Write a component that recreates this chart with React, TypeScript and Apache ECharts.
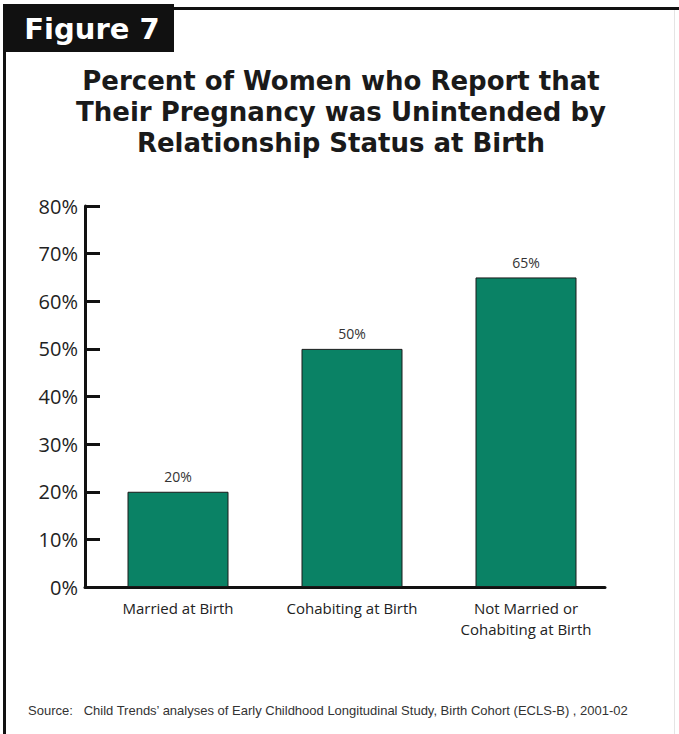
import React, { useEffect, useRef } from "react";
import * as echarts from "echarts";

const categories = ["Married at Birth", "Cohabiting at Birth", "Not Married or\nCohabiting at Birth"];
const values = [20, 50, 65];
const yTicks = [0, 10, 20, 30, 40, 50, 60, 70, 80];
const titleLines = [
  "Percent of Women who Report that",
  "Their Pregnancy was Unintended by",
  "Relationship Status at Birth",
];
const figureLabel = "Figure 7";
const sourceText =
  "Source:   Child Trends\u2019 analyses of Early Childhood Longitudinal Study, Birth Cohort (ECLS-B) , 2001-02";

export default function App() {
  const ref = useRef<HTMLDivElement>(null);
  useEffect(() => {
    if (!ref.current) return;
    const chart = echarts.init(ref.current, null, { renderer: "svg" });
    const top = 206;
    const bottom = 734 - 587;
    chart.setOption({
      animation: false,
      backgroundColor: "#ffffff",
      grid: [
        { left: 91, width: 522, top, bottom },
        { left: 85, width: 520, top, bottom },
      ],
      xAxis: [
        {
          type: "category",
          gridIndex: 0,
          data: categories,
          axisLine: { show: false },
          axisTick: { show: false },
          axisLabel: {
            color: "#222",
            fontSize: 15,
            fontFamily: "Open Sans",
            lineHeight: 21,
            margin: 10,
            interval: 0,
          },
        },
        {
          type: "value",
          gridIndex: 1,
          min: 0,
          max: 1,
          axisLine: { show: true, lineStyle: { color: "#111", width: 3 } },
          axisTick: { show: false },
          axisLabel: { show: false },
          splitLine: { show: false },
        },
      ],
      yAxis: [
        {
          type: "value",
          gridIndex: 0,
          min: 0,
          max: 80,
          interval: 10,
          offset: 6,
          axisLine: { show: true, lineStyle: { color: "#111", width: 3 } },
          axisTick: { show: true, inside: true, length: 15, lineStyle: { color: "#111", width: 3 } },
          axisLabel: {
            color: "#222",
            fontSize: 20,
            fontFamily: "Open Sans",
            margin: 7,
            formatter: (v: number) => (yTicks.includes(v) ? v + "%" : ""),
          },
          splitLine: { show: false },
        },
        {
          type: "value",
          gridIndex: 1,
          show: false,
          min: 0,
          max: 1,
        },
      ],
      series: [
        {
          type: "bar",
          xAxisIndex: 0,
          yAxisIndex: 0,
          data: values,
          barWidth: 101,
          itemStyle: { color: "#0a8265", borderColor: "#1a1a1a", borderWidth: 1 },
          label: {
            show: true,
            position: "top",
            distance: 8,
            color: "#333",
            fontSize: 14,
            fontFamily: "Open Sans",
            formatter: (p: any) => p.value + "%",
          },
        },
      ],
      graphic: [
        { type: "rect", shape: { x: 3, y: 8, width: 3, height: 726 }, style: { fill: "#111" } },
        { type: "rect", shape: { x: 170, y: 7, width: 509, height: 3 }, style: { fill: "#111" } },
        { type: "rect", shape: { x: 674, y: 10, width: 1, height: 724 }, style: { fill: "#e4e4e4" } },
        { type: "rect", shape: { x: 3, y: 4, width: 171, height: 48 }, style: { fill: "#111" } },
        {
          type: "text",
          x: 92,
          y: 29,
          style: {
            text: figureLabel,
            fill: "#fff",
            font: "bold 29px 'DejaVu Sans'",
            align: "center",
            verticalAlign: "middle",
          },
        },
        ...titleLines.map((t, i) => ({
          type: "text",
          x: 341,
          y: 81 + i * 31,
          style: {
            text: t,
            fill: "#1a1a1a",
            font: "bold 26px 'DejaVu Sans'",
            align: "center",
            verticalAlign: "middle",
          },
        })),
        {
          type: "text",
          x: 28,
          y: 710,
          style: {
            text: sourceText,
            fill: "#333",
            font: "13px 'Liberation Sans Narrow', 'Liberation Sans'",
            align: "left",
            verticalAlign: "middle",
          },
        },
      ],
    });
    return () => chart.dispose();
  }, []);
  return <div ref={ref} style={{ width: 679, height: 734, position: "absolute", left: 0, top: 0 }} />;
}
